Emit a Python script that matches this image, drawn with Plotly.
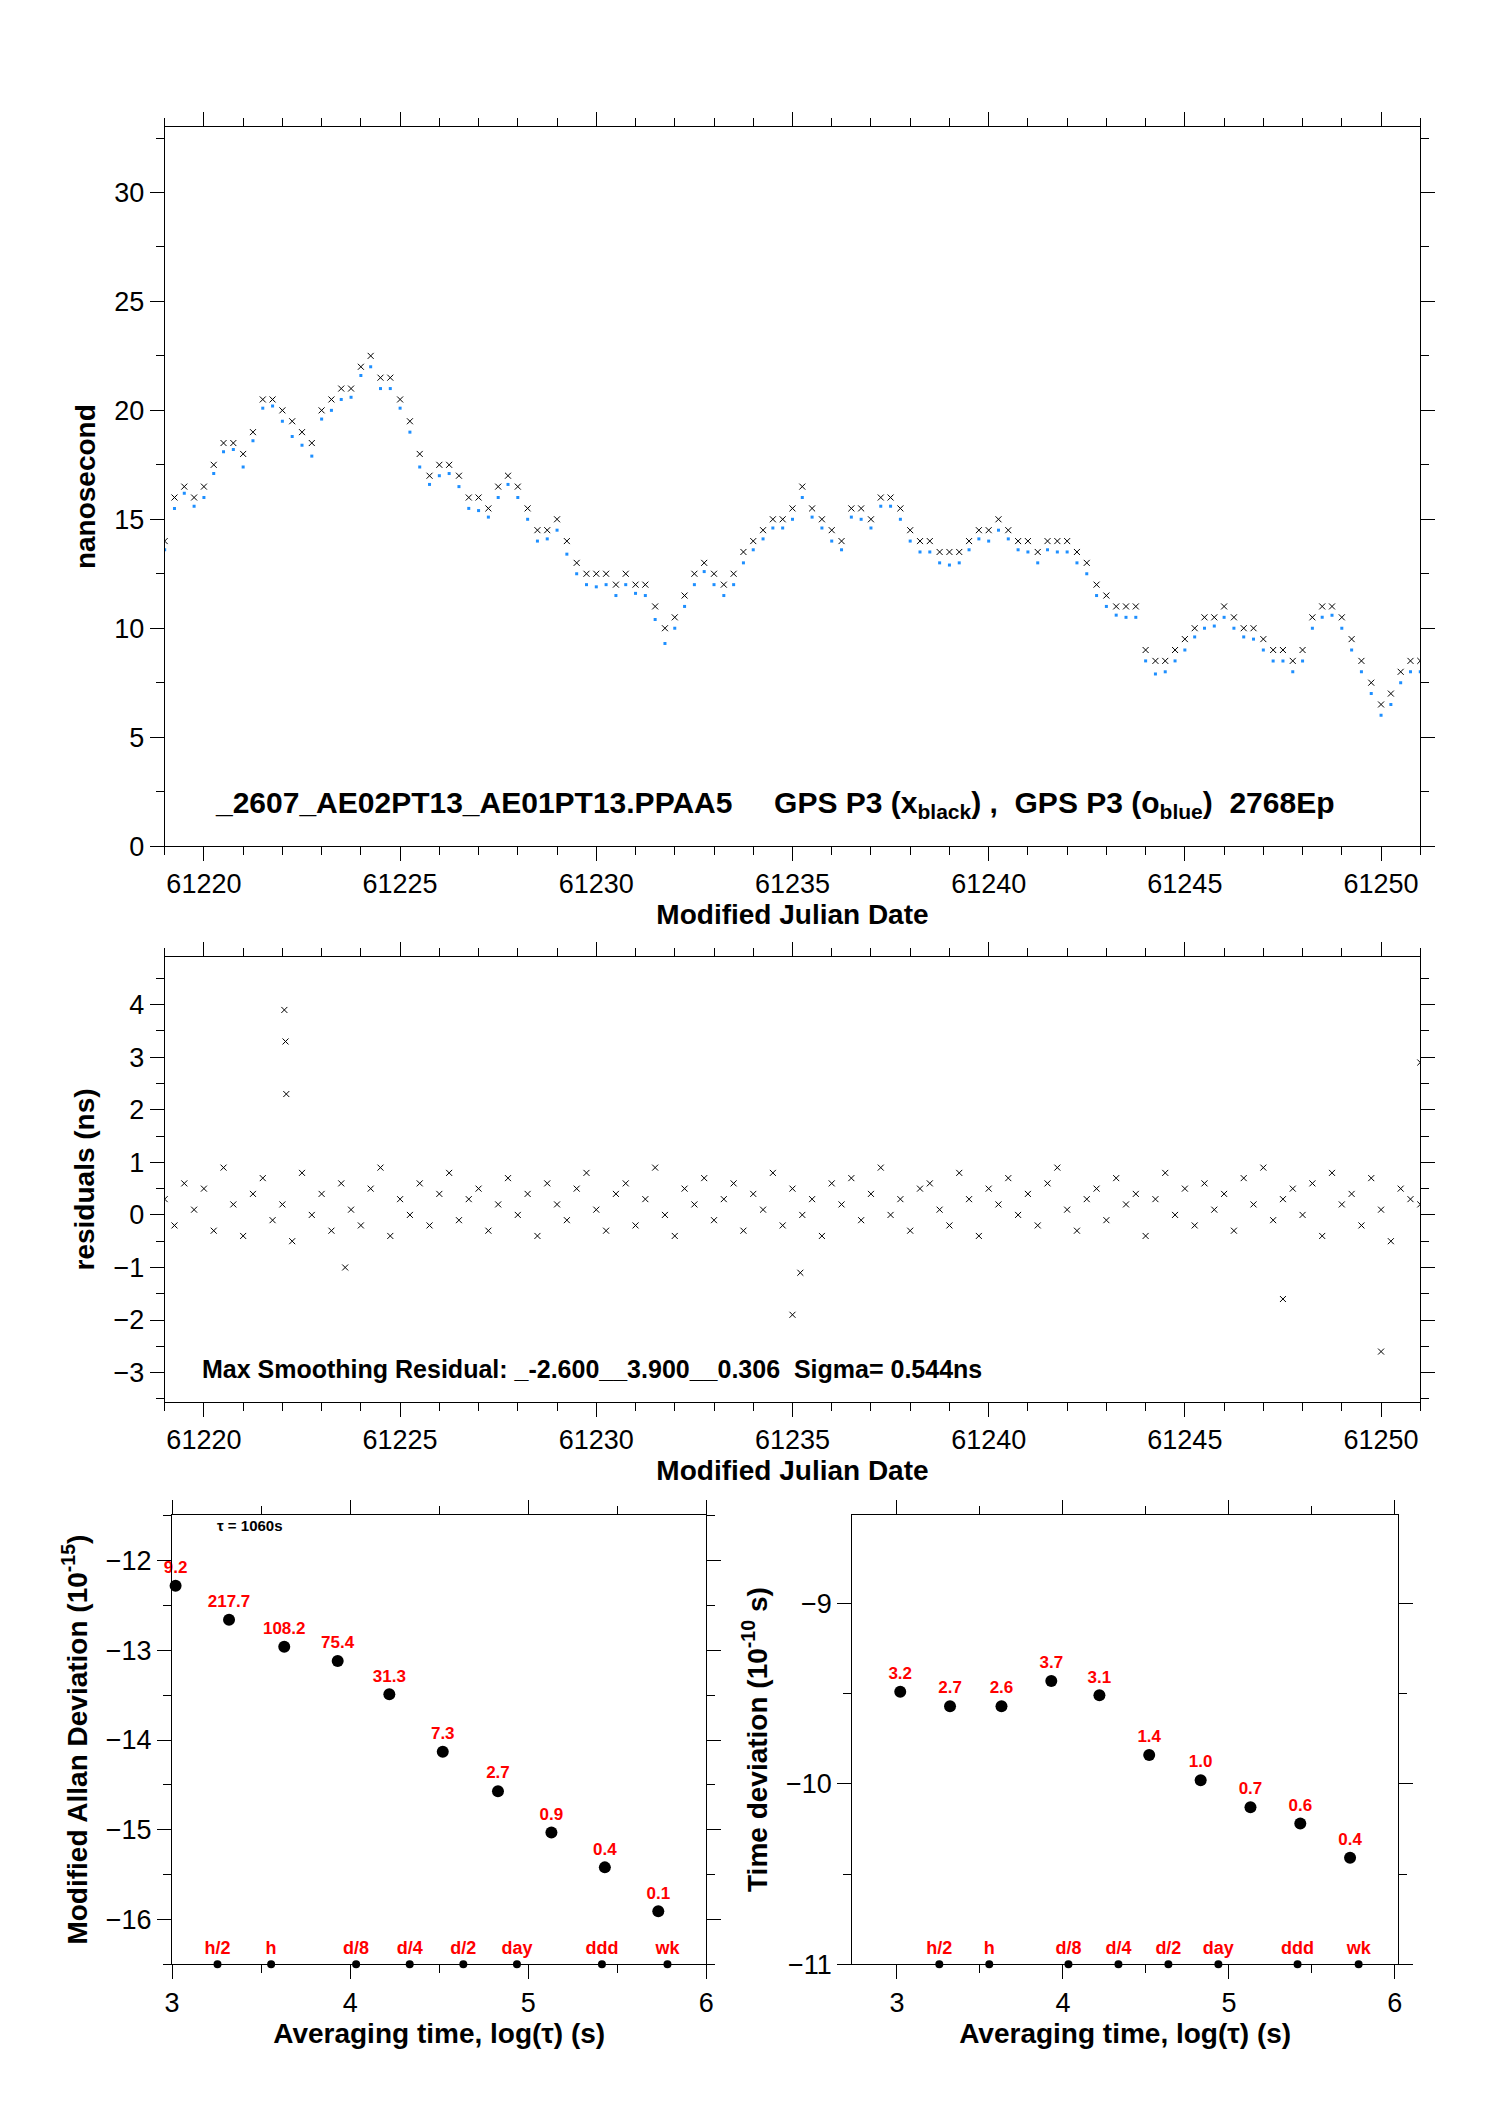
import numpy as np
import plotly.graph_objects as go
# inputs (0.25 day steps)
mjd = 61219.0 + 0.25 * np.arange(129)
black = [14, 16, 16.5, 16, 16.5, 17.5, 18.5, 18.5, 18, 19, 20.5, 20.5,
         20, 19.5, 19, 18.5, 20, 20.5, 21, 21, 22, 22.5, 21.5, 21.5,
         20.5, 19.5, 18, 17, 17.5, 17.5, 17, 16, 16, 15.5, 16.5, 17,
         16.5, 15.5, 14.5, 14.5, 15, 14, 13, 12.5, 12.5, 12.5, 12, 12.5,
         12, 12, 11, 10, 10.5, 11.5, 12.5, 13, 12.5, 12, 12.5, 13.5,
         14, 14.5, 15, 15, 15.5, 16.5, 15.5, 15, 14.5, 14, 15.5, 15.5,
         15, 16, 16, 15.5, 14.5, 14, 14, 13.5, 13.5, 13.5, 14, 14.5,
         14.5, 15, 14.5, 14, 14, 13.5, 14, 14, 14, 13.5, 13, 12,
         11.5, 11, 11, 11, 9, 8.5, 8.5, 9, 9.5, 10, 10.5, 10.5,
         11, 10.5, 10, 10, 9.5, 9, 9, 8.5, 9, 10.5, 11, 11,
         10.5, 9.5, 8.5, 7.5, 6.5, 7, 8, 8.5, 8.5]
blue = [13.6, 15.5, 16.2, 15.6, 16.0, 17.1, 18.1, 18.2, 17.4, 18.6, 20.1, 20.2,
        19.5, 18.8, 18.4, 17.9, 19.6, 20.0, 20.5, 20.6, 21.6, 22.0, 21.0, 21.0,
        20.1, 19.0, 17.4, 16.6, 17.0, 17.1, 16.5, 15.5, 15.4, 15.1, 16.0, 16.6,
        16.0, 15.0, 14.0, 14.1, 14.5, 13.4, 12.5, 12.0, 11.9, 12.0, 11.5, 12.0,
        11.6, 11.5, 10.4, 9.3, 10.0, 11.0, 12.0, 12.6, 12.0, 11.5, 12.0, 13.0,
        13.6, 14.1, 14.6, 14.6, 15.0, 16.0, 15.1, 14.6, 14.0, 13.6, 15.1, 15.0,
        14.6, 15.6, 15.6, 15.0, 14.0, 13.5, 13.5, 13.0, 12.9, 13.0, 13.6, 14.1,
        14.0, 14.5, 14.1, 13.6, 13.5, 13.0, 13.6, 13.5, 13.5, 13.0, 12.5, 11.5,
        11.0, 10.6, 10.5, 10.5, 8.5, 7.9, 8.0, 8.5, 9.0, 9.6, 10.0, 10.1,
        10.5, 10.0, 9.6, 9.5, 9.0, 8.5, 8.5, 8.0, 8.5, 10.0, 10.5, 10.6,
        10.0, 9.0, 8.0, 7.0, 6.0, 6.5, 7.5, 8.0, 8.0]
resid = [0.3, -0.2, 0.6, 0.1, 0.5, -0.3, 0.9, 0.2, -0.4, 0.4, 0.7, -0.1,
         0.2, -0.5, 0.8, 0.0, 0.4, -0.3, 0.6, 0.1, -0.2, 0.5, 0.9, -0.4,
         0.3, 0.0, 0.6, -0.2, 0.4, 0.8, -0.1, 0.3, 0.5, -0.3, 0.2, 0.7,
         0.0, 0.4, -0.4, 0.6, 0.2, -0.1, 0.5, 0.8, 0.1, -0.3, 0.4, 0.6,
         -0.2, 0.3, 0.9, 0.0, -0.4, 0.5, 0.2, 0.7, -0.1, 0.3, 0.6, -0.3,
         0.4, 0.1, 0.8, -0.2, 0.5, 0.0, 0.3, -0.4, 0.6, 0.2, 0.7, -0.1,
         0.4, 0.9, 0.0, 0.3, -0.3, 0.5, 0.6, 0.1, -0.2, 0.8, 0.3, -0.4,
         0.5, 0.2, 0.7, 0.0, 0.4, -0.2, 0.6, 0.9, 0.1, -0.3, 0.3, 0.5,
         -0.1, 0.7, 0.2, 0.4, -0.4, 0.3, 0.8, 0.0, 0.5, -0.2, 0.6, 0.1,
         0.4, -0.3, 0.7, 0.2, 0.9, -0.1, 0.3, 0.5, 0.0, 0.6, -0.4, 0.8,
         0.2, 0.4, -0.2, 0.7, 0.1, -0.5, 0.5, 0.3, 0.2]
# a few outliers in the residuals
out_x = [61222.05, 61222.08, 61222.1, 61235.0, 61247.5, 61250.0, 61251.0, 61223.6, 61235.2]
out_y = [3.9, 3.3, 2.3, -1.9, -1.6, -2.6, 2.9, -1.0, -1.1]
# stability
log_tau = [3.02, 3.32, 3.63, 3.93, 4.22, 4.52, 4.83, 5.13, 5.43, 5.73]
mdev = [-12.28, -12.66, -12.96, -13.12, -13.49, -14.13, -14.57, -15.03, -15.42, -15.91]
mdev_lab = ["9.2", "217.7", "108.2", "75.4", "31.3", "7.3", "2.7", "0.9", "0.4", "0.1"]
tdev = [-9.49, -9.57, -9.57, -9.43, -9.51, -9.84, -9.98, -10.13, -10.22, -10.41]
tdev_lab = ["3.2", "2.7", "2.6", "3.7", "3.1", "1.4", "1.0", "0.7", "0.6", "0.4"]
marks = {"h/2": 1800, "h": 3600, "d/8": 10800, "d/4": 21600,
         "d/2": 43200, "day": 86400, "ddd": 259200, "wk": 604800}
mark_x = np.log10(list(marks.values()))

FONT = "Liberation Sans, Arial"
red = "#ff0000"
fig = go.Figure()
fig.add_trace(go.Scatter(x=mjd, y=black, mode="markers", xaxis="x", yaxis="y",
                         marker=dict(symbol="x-thin", size=6, color="black",
                                     line=dict(width=1, color="black"))))
fig.add_trace(go.Scatter(x=mjd, y=blue, mode="markers", xaxis="x", yaxis="y",
                         marker=dict(symbol="square", size=3, color="#1e8fff")))
fig.add_trace(go.Scatter(x=mjd, y=resid, mode="markers", xaxis="x2", yaxis="y2",
                         marker=dict(symbol="x-thin", size=6, color="black",
                                     line=dict(width=1, color="black"))))
fig.add_trace(go.Scatter(x=out_x, y=out_y, mode="markers", xaxis="x2", yaxis="y2",
                         marker=dict(symbol="x-thin", size=6, color="black",
                                     line=dict(width=1, color="black"))))
for ax, vals, labs, ybot in [("3", mdev, mdev_lab, -16.5), ("4", tdev, tdev_lab, -11)]:
    fig.add_trace(go.Scatter(x=log_tau, y=vals, mode="markers+text", text=labs,
                             textposition="top center", xaxis="x" + ax, yaxis="y" + ax,
                             cliponaxis=False,
                             textfont=dict(color=red, size=17, family=FONT, weight="bold"),
                             marker=dict(size=12, color="black")))
    fig.add_trace(go.Scatter(x=mark_x, y=[ybot] * len(mark_x), mode="markers+text",
                             text=list(marks.keys()), textposition="top center",
                             xaxis="x" + ax, yaxis="y" + ax, cliponaxis=False,
                             textfont=dict(color=red, size=18, family=FONT, weight="bold"),
                             marker=dict(size=8, color="black")))

axis = dict(showline=True, linecolor="black", linewidth=1, mirror="ticks", ticks="outside",
            ticklen=14, tickcolor="black", showgrid=False, zeroline=False,
            tickfont=dict(size=27, family=FONT, color="black"),
            title_font=dict(size=28, family=FONT, weight="bold", color="black"),
            minor=dict(ticks="outside", ticklen=8, tickcolor="black"))
fig.update_layout(
    width=1488, height=2105, margin=dict(l=0, r=0, t=0, b=0),
    plot_bgcolor="white", paper_bgcolor="white", showlegend=False,
    font=dict(family=FONT, color="black"),
    xaxis=dict(axis, domain=[0.101, 0.954], anchor="y", range=[61219, 61251], dtick=5,
               tickformat="d", title=dict(text="Modified Julian Date", standoff=4), minor_dtick=1),
    yaxis=dict(axis, domain=[0.599, 0.943], anchor="x", range=[0, 33], dtick=5,
               title=dict(text="nanosecond", standoff=10), minor_dtick=2.5),
    xaxis2=dict(axis, domain=[0.101, 0.954], anchor="y2", range=[61219, 61251], dtick=5,
                tickformat="d", title=dict(text="Modified Julian Date", standoff=4), minor_dtick=1),
    yaxis2=dict(axis, domain=[0.333, 0.546], anchor="x2", range=[-3.56, 4.91], dtick=1,
                title=dict(text="residuals (ns)", standoff=10), minor_dtick=0.5),
    xaxis3=dict(axis, domain=[0.106, 0.469], anchor="y3", range=[3, 6], dtick=1,
                title=dict(text="Averaging time, log(τ) (s)", standoff=4), minor_dtick=0.5),
    yaxis3=dict(axis, domain=[0.064, 0.279], anchor="x3", range=[-16.5, -11.49], dtick=1,
                title=dict(text="Modified Allan Deviation (10<sup>-15</sup>)", standoff=10),
                minor_dtick=0.5),
    xaxis4=dict(axis, domain=[0.568, 0.939], anchor="y4", range=[2.73, 6.02], dtick=1,
                title=dict(text="Averaging time, log(τ) (s)", standoff=4), minor_dtick=0.5),
    yaxis4=dict(axis, domain=[0.064, 0.279], anchor="x4", range=[-11, -8.51], dtick=1,
                title=dict(text="Time deviation (10<sup>-10</sup> s)", standoff=10),
                minor_dtick=0.5),
)
fig.add_annotation(x=0.515, y=0.619, xref="paper", yref="paper", showarrow=False,
                   text="_2607_AE02PT13_AE01PT13.PPAA5     GPS P3 (x<sub>black</sub>) ,  GPS P3 (o<sub>blue</sub>)  2768Ep",
                   font=dict(size=30, family=FONT, weight="bold"))
fig.add_annotation(x=0.125, y=0.349, xref="paper", yref="paper", showarrow=False, xanchor="left",
                   text="Max Smoothing Residual: _-2.600__3.900__0.306  Sigma= 0.544ns",
                   font=dict(size=25, family=FONT, weight="bold"))
fig.add_annotation(x=0.135, y=0.269, xref="paper", yref="paper", showarrow=False, xanchor="left",
                   text="τ = 1060s", font=dict(size=15, family=FONT, weight="bold"))
fig.write_html("out.html")
